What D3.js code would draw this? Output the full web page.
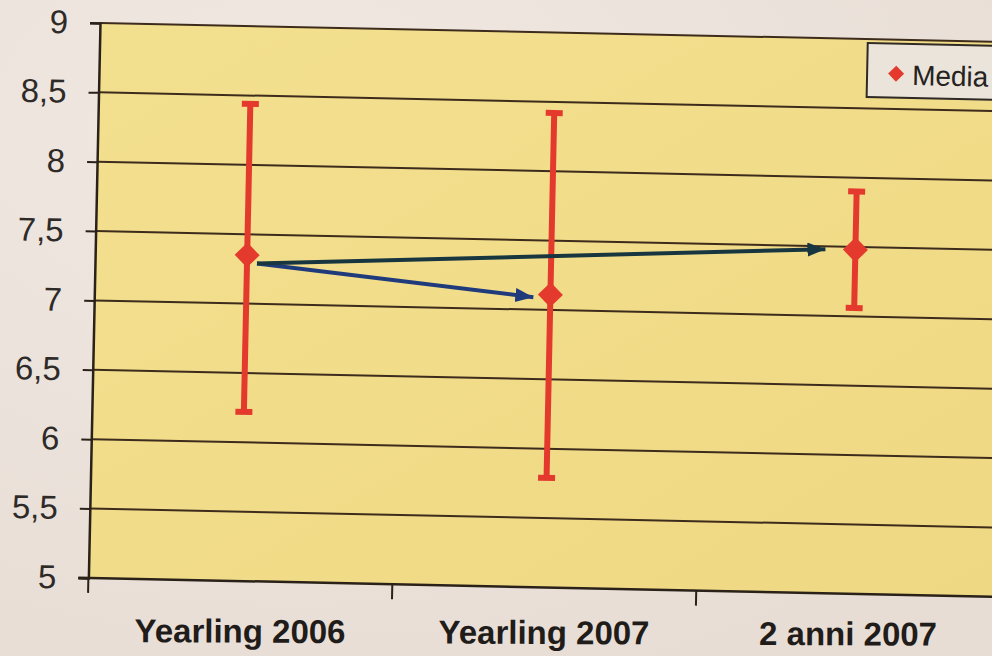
<!DOCTYPE html>
<html>
<head>
<meta charset="utf-8">
<script src="https://cdn.jsdelivr.net/npm/d3@7/dist/d3.min.js"></script>
<style>
  html, body { margin: 0; padding: 0; background: #ede4dd; }
  svg { display: block; }
</style>
</head>
<body>
<script>
// ---- data ----
const categories = ["Yearling 2006", "Yearling 2007", "2 anni 2007"];
const meanValues = [7.35, 7.11, 7.48];
const upperValues = [8.44, 8.42, 7.90];
const lowerValues = [6.22, 5.79, 7.06];
const yTickValues = [5, 5.5, 6, 6.5, 7, 7.5, 8, 8.5, 9];
const yTickLabels = ["5", "5,5", "6", "6,5", "7", "7,5", "8", "8,5", "9"];
const legendLabels = ["Media"];
const arrowFrom = ["Yearling 2006", "Yearling 2006"];
const arrowFromValues = [7.29, 7.29];
const arrowTo = ["Yearling 2007", "2 anni 2007"];
const arrowToValues = [7.09, 7.48];

// ---- layout / style ----
const W = 992, H = 656;
const plotW = 912, plotH = 555;
const red = "#e43a2d";
const arrowColors = ["#1f3b7c", "#17363f"];
const tipGaps = [17, 30];

const svg = d3.select("body").append("svg").attr("width", W).attr("height", H);

const defs = svg.append("defs");
const bg = defs.append("radialGradient").attr("id", "bg").attr("cx", "30%").attr("cy", "20%").attr("r", "90%");
bg.append("stop").attr("offset", "0%").attr("stop-color", "#f0e8e2");
bg.append("stop").attr("offset", "100%").attr("stop-color", "#e7ddd5");
svg.append("rect").attr("width", W).attr("height", H).attr("fill", "url(#bg)");

const pg = defs.append("linearGradient").attr("id", "plotfill").attr("x1", "0").attr("y1", "0").attr("x2", "1").attr("y2", "1");
pg.append("stop").attr("offset", "0%").attr("stop-color", "#f3e08f");
pg.append("stop").attr("offset", "100%").attr("stop-color", "#efd883");

arrowColors.forEach((c, i) => {
  defs.append("marker")
    .attr("id", "ah" + i)
    .attr("markerUnits", "userSpaceOnUse")
    .attr("markerWidth", 20).attr("markerHeight", 16)
    .attr("refX", 18).attr("refY", 7)
    .attr("orient", "auto")
    .append("path").attr("d", "M0,0 L18,7 L0,14 Z").attr("fill", c);
});

const x = d3.scaleBand().domain(categories).range([0, plotW]);
const xc = c => x(c) + x.bandwidth() / 2;
const y = d3.scaleLinear().domain([5, 9]).range([plotH, 0]);

const g = svg.append("g").attr("transform", "translate(100,23) rotate(1.2)");

g.append("rect").attr("x", 0).attr("y", 0).attr("width", plotW).attr("height", plotH)
  .attr("fill", "url(#plotfill)");

// gridlines
g.append("g").selectAll("line").data(yTickValues.filter(v => v > 5)).join("line")
  .attr("x1", 0).attr("x2", plotW)
  .attr("y1", d => y(d)).attr("y2", d => y(d))
  .attr("stroke", "#3d2b1c").attr("stroke-width", 2);

// y axis
const yAxis = d3.axisLeft(y).tickValues(yTickValues)
  .tickFormat((d, i) => yTickLabels[i]).tickSize(10).tickPadding(22);
const ya = g.append("g").call(yAxis);
ya.select(".domain").attr("stroke", "#2a2118").attr("stroke-width", 2.5);
ya.selectAll(".tick line").attr("stroke", "#2a2118").attr("stroke-width", 2);
ya.selectAll(".tick text").attr("fill", "#2e2a28")
  .style("font-family", "Liberation Sans, Arial, sans-serif").style("font-size", "33px");

// x axis (ticks at band boundaries)
const xa = g.append("g").attr("transform", `translate(0,${plotH})`);
xa.append("line").attr("x1", -10).attr("x2", plotW).attr("y1", 0).attr("y2", 0)
  .attr("stroke", "#2a2118").attr("stroke-width", 2.5);
xa.selectAll("line.t").data(categories.concat(["__end"])).join("line").attr("class", "t")
  .attr("x1", (d, i) => i < categories.length ? x(d) : plotW)
  .attr("x2", (d, i) => i < categories.length ? x(d) : plotW)
  .attr("y1", 0).attr("y2", 15)
  .attr("stroke", "#2a2118").attr("stroke-width", 2);

// error bars
const eb = g.append("g");
categories.forEach((c, i) => {
  eb.append("line").attr("x1", xc(c)).attr("x2", xc(c))
    .attr("y1", y(upperValues[i])).attr("y2", y(lowerValues[i]))
    .attr("stroke", red).attr("stroke-width", 6);
  [upperValues[i], lowerValues[i]].forEach(v => {
    eb.append("line").attr("x1", xc(c) - 8.5).attr("x2", xc(c) + 8.5)
      .attr("y1", y(v)).attr("y2", y(v))
      .attr("stroke", red).attr("stroke-width", 6);
  });
  const cx = xc(c), cy = y(meanValues[i]), r = 12.5;
  eb.append("path").attr("d", `M${cx},${cy - r} L${cx + r},${cy} L${cx},${cy + r} L${cx - r},${cy} Z`)
    .attr("fill", red);
});

// arrows
arrowFrom.forEach((f, i) => {
  g.append("line")
    .attr("x1", xc(f) + 10).attr("y1", y(arrowFromValues[i]))
    .attr("x2", xc(arrowTo[i]) - tipGaps[i]).attr("y2", y(arrowToValues[i]))
    .attr("stroke", arrowColors[i]).attr("stroke-width", 4)
    .attr("marker-end", `url(#ah${i})`);
});

// legend
const lg = g.append("g").attr("transform", "translate(768,4)");
lg.append("rect").attr("width", 260).attr("height", 54)
  .attr("fill", "#ebe4da").attr("stroke", "#2f2a25").attr("stroke-width", 2);
legendLabels.forEach((l, i) => {
  const cx = 29, cy = 30, r = 8;
  lg.append("path").attr("d", `M${cx},${cy - r} L${cx + r},${cy} L${cx},${cy + r} L${cx - r},${cy} Z`).attr("fill", red);
  lg.append("text").attr("x", 45).attr("y", 41).text(l)
    .attr("fill", "#252220")
    .style("font-family", "Liberation Sans, Arial, sans-serif").style("font-size", "28px");
});

// category labels (under axis, less tilted in the photo)
const xl = svg.append("g").attr("transform", "translate(88,642) rotate(0.25)");
xl.selectAll("text").data(categories).join("text")
  .attr("x", d => xc(d)).attr("y", 0)
  .attr("text-anchor", "middle")
  .attr("fill", "#1f1c1a")
  .style("font-family", "Liberation Sans, Arial, sans-serif")
  .style("font-size", "33px").style("font-weight", "bold")
  .text(d => d);
</script>
</body>
</html>
